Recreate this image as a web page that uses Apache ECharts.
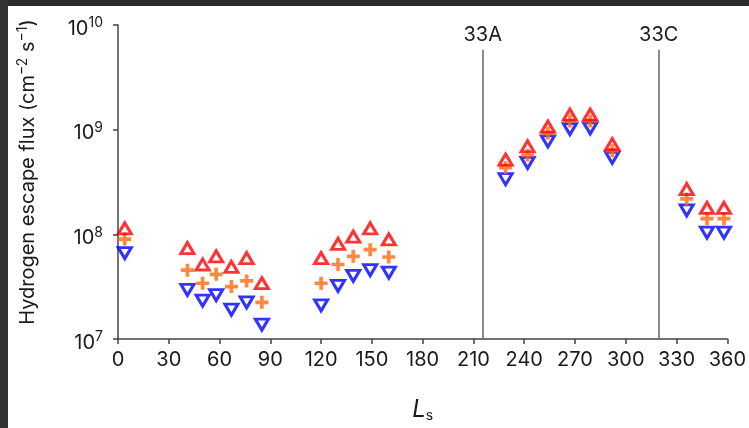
<!DOCTYPE html>
<html>
<head>
<meta charset="utf-8">
<script src="https://cdn.jsdelivr.net/npm/echarts@6/dist/echarts.min.js"></script>
<style>
html,body{margin:0;padding:0;background:#fff;}
#chart{width:749px;height:428px;}
</style>
</head>
<body>
<div id="chart"></div>
<script>
// Solar longitude of each observation
var ls = [4, 41, 50, 58, 67, 76, 85, 120, 130, 139, 149, 160, 229, 242, 254, 267, 279, 292, 336, 348, 358];
// Upper estimate (red up-triangles)
var fluxUpper = [1.14e8, 7.4e7, 5.15e7, 6.17e7, 4.89e7, 5.94e7, 3.41e7, 5.94e7, 8.11e7, 9.51e7, 1.14e8, 8.97e7, 5.18e8, 6.92e8, 1.07e9, 1.39e9, 1.39e9, 7.28e8, 2.71e8, 1.79e8, 1.79e8];
// Central estimate (orange plus)
var fluxMid = [9.0e7, 4.55e7, 3.41e7, 4.15e7, 3.17e7, 3.59e7, 2.24e7, 3.41e7, 5.15e7, 6.17e7, 7.13e7, 6.07e7, 4.33e8, 5.70e8, 9.23e8, 1.21e9, 1.21e9, 6.29e8, 2.18e8, 1.41e8, 1.41e8];
// Lower estimate (blue down-triangles)
var fluxLower = [6.6e7, 2.95e7, 2.33e7, 2.63e7, 1.91e7, 2.24e7, 1.37e7, 2.09e7, 3.22e7, 4.0e7, 4.55e7, 4.30e7, 3.36e8, 4.82e8, 7.71e8, 1.01e9, 1.03e9, 5.37e8, 1.69e8, 1.04e8, 1.04e8];
// Event markers
var markerLs = [215.5, 319.5];
var markerLabels = ['33A', '33C'];
var markerTop = 5.8e9;
// Axis ticks
var xTicks = [0, 30, 60, 90, 120, 150, 180, 210, 240, 270, 300, 330, 360];
var yExponents = [7, 8, 9, 10];

var FONT = 'Inter, "Liberation Sans", Arial, sans-serif';
var TXT = '#1a1a1a';

function pairs(ys) { return ls.map(function (x, i) { return [x, ys[i]]; }); }

var markData = markerLs.map(function (x, i) {
  return [{ coord: [x, Math.pow(10, yExponents[0])] }, { coord: [x, markerTop], name: markerLabels[i] }];
});

var plusPath = 'path://M0,4.3H4.3V0H7.7V4.3H12V7.7H7.7V12H4.3V7.7H0Z';

var chart = echarts.init(document.getElementById('chart'), null, { renderer: 'canvas' });
chart.setOption({
  animation: false,
  backgroundColor: '#ffffff',
  textStyle: { fontFamily: FONT },
  graphic: [
    { type: 'rect', shape: { x: 0, y: 0, width: 749, height: 6 }, style: { fill: '#2b2b2b' }, z: 100 },
    { type: 'rect', shape: { x: 0, y: 0, width: 8, height: 428 }, style: { fill: '#333333' }, z: 100 }
  ],
  grid: { left: 118, right: 18, top: 25, bottom: 84, containLabel: false },
  xAxis: {
    type: 'value',
    min: xTicks[0],
    max: xTicks[xTicks.length - 1],
    interval: 30,
    name: '{i|L}{s|s}',
    nameLocation: 'middle',
    nameGap: 58,
    nameTextStyle: {
      rich: {
        i: { fontSize: 24, fontStyle: 'italic', fontFamily: FONT, color: TXT },
        s: { fontSize: 14, fontFamily: FONT, color: TXT, padding: [12, 0, 0, 0] }
      }
    },
    axisLine: { show: true, onZero: false, lineStyle: { color: '#444', width: 1.5 } },
    axisTick: { show: true, inside: false, length: 5, lineStyle: { color: '#444', width: 1.5 } },
    axisLabel: { fontSize: 20, color: TXT, margin: 11, fontFamily: FONT },
    splitLine: { show: false }
  },
  yAxis: {
    type: 'log',
    logBase: 10,
    min: Math.pow(10, yExponents[0]),
    max: Math.pow(10, yExponents[yExponents.length - 1]),
    name: 'Hydrogen escape flux (cm{s|−2} s{s|−1})',
    nameLocation: 'middle',
    nameRotate: 90,
    nameGap: 78,
    nameTextStyle: {
      fontSize: 20, color: TXT, fontFamily: FONT,
      padding: [0, 0, 0, 20],
      rich: {
        s: { fontSize: 14, fontFamily: FONT, color: TXT, padding: [0, 0, 10, 0] }
      }
    },
    axisLine: { show: true, lineStyle: { color: '#444', width: 1.5 } },
    axisTick: { show: true, inside: false, length: 5, lineStyle: { color: '#444', width: 1.5 } },
    minorTick: { show: false },
    axisLabel: {
      margin: 15,
      padding: [7, 0, 0, 0],
      formatter: function (v) {
        var e = Math.round(Math.log10(v));
        return '{b|10}{s|' + e + '}';
      },
      rich: {
        b: { fontSize: 20, color: TXT, fontFamily: FONT },
        s: { fontSize: 14, color: TXT, fontFamily: FONT, padding: [0, 0, 11, 0] }
      }
    },
    splitLine: { show: false }
  },
  series: [
    {
      name: 'lower', type: 'scatter', data: pairs(fluxLower),
      symbol: 'triangle', symbolRotate: 180, symbolSize: [13, 11],
      itemStyle: { color: 'rgba(0,0,0,0)', borderColor: '#0000ff', borderWidth: 3 },
      z: 2,
      markLine: {
        silent: true, symbol: ['none', 'none'],
        lineStyle: { color: '#666', width: 1.5, type: 'solid' },
        label: { show: true, position: 'end', distance: 5, formatter: '{b}', fontSize: 20, color: TXT, fontFamily: FONT },
        data: markData
      }
    },
    {
      name: 'mid', type: 'scatter', data: pairs(fluxMid),
      symbol: plusPath, symbolSize: 13,
      itemStyle: { color: '#ff6a10' },
      z: 3
    },
    {
      name: 'upper', type: 'scatter', data: pairs(fluxUpper),
      symbol: 'triangle', symbolSize: [13, 11],
      itemStyle: { color: 'rgba(0,0,0,0)', borderColor: '#ff0000', borderWidth: 3 },
      z: 4
    }
  ]
});
</script>
</body>
</html>
